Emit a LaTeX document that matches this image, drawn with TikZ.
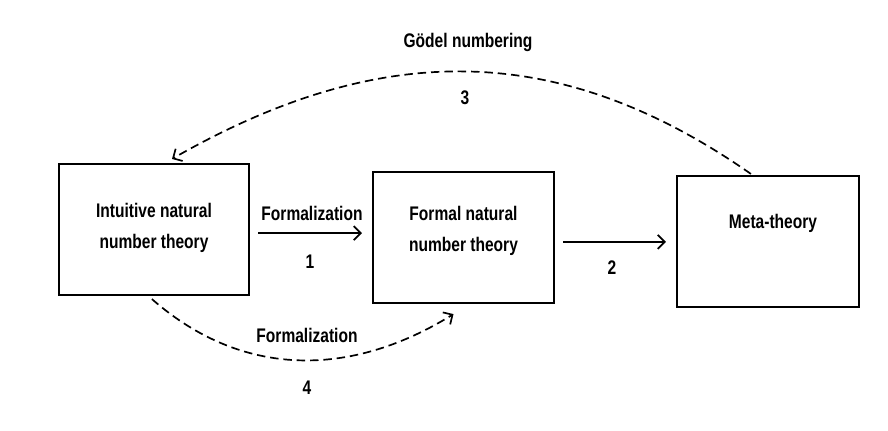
\documentclass[tikz,border=0pt]{standalone}
\usepackage{fontspec}
\setmainfont{Liberation Sans}[FakeStretch=0.79]
\usepackage{tikz}
\usetikzlibrary{arrows.meta,calc}

\begin{document}
\begin{tikzpicture}[
    x=0.025cm, y=-0.025cm,
    lbl/.style={font=\fontsize{14}{22}\selectfont\bfseries, align=center, inner sep=0pt},
    box/.style={draw, line width=1.5pt, minimum height=3.275cm, inner sep=0pt},
    arr/.style={-{Straight Barb[length=5pt,width=10pt,line width=1.2pt]}, line width=1.2pt},
    darr/.style={arr, dash pattern=on 6pt off 3.5pt},
]
\useasboundingbox (0,0) rectangle (888,430);
% --- the three theories ---
\node[box, minimum width=4.75cm]  (intuit) at (154,229.5) {};
\node[box, minimum width=4.525cm] (formal) at (463.5,237.5) {};
\node[box, minimum width=4.55cm]  (meta)   at (768,241.5) {};
\node[lbl] (intuitTxt) at (154,228)   {Intuitive natural\\number theory};
\node[lbl] (formalTxt) at (463.5,231) {Formal natural\\number theory};
\node[lbl] (metaTxt)   at (773,223)   {Meta-theory};
% --- straight arrows 1 and 2 ---
\draw[arr, shorten >=2.5mm] ([xshift=2mm,yshift=-0.9mm]intuit.east) coordinate (s1)
  -- (s1 -| formal.west);
\draw[arr, shorten >=2.5mm] ([xshift=2mm,yshift=-1.1mm]formal.east) coordinate (s2)
  -- (s2 -| meta.west);
\node[lbl] (formLbl) at (312,213) {Formalization};
\node[lbl] (oneLbl)  at (310,262) {1};
\node[lbl] (twoLbl)  at (612,268) {2};
% --- dashed arcs 3 and 4 ---
\draw[darr] ($(meta.north west)+(75,-1)$) .. controls (559,40) and (380,40) .. ($(intuit.north)+(18,-4)$);
\node[lbl] (godelLbl) at (468,42) {Gödel numbering};
\node[lbl] (threeLbl) at (465,98) {3};
\draw[darr] ($(intuit.south west)+(94,3)$) .. controls (242,378) and (350,378) .. ($(formal.south)+(-10,10)$);
\node[lbl] (form2Lbl) at (307,335) {Formalization};
\node[lbl] (fourLbl)  at (307,388) {4};
\end{tikzpicture}
\end{document}
